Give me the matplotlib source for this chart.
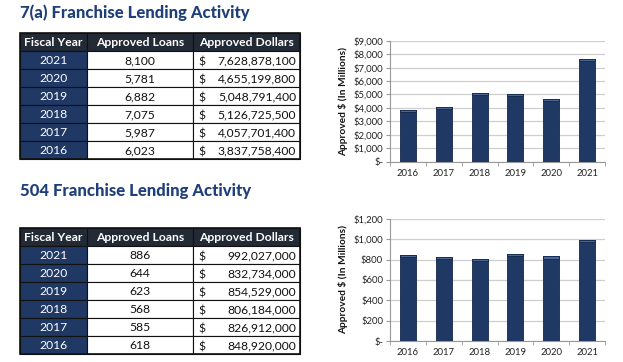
import matplotlib.pyplot as plt
from matplotlib.patches import Rectangle
from matplotlib.ticker import FuncFormatter

# data
years = ['2021', '2020', '2019', '2018', '2017', '2016']
loans_7a = ['8,100', '5,781', '6,882', '7,075', '5,987', '6,023']
dollars_7a = ['7,628,878,100', '4,655,199,800', '5,048,791,400',
              '5,126,725,500', '4,057,701,400', '3,837,758,400']
loans_504 = ['886', '644', '623', '568', '585', '618']
dollars_504 = ['992,027,000', '832,734,000', '854,529,000',
               '806,184,000', '826,912,000', '848,920,000']
headers = ['Fiscal Year', 'Approved Loans', 'Approved Dollars']

chart_years = ['2016', '2017', '2018', '2019', '2020', '2021']
mil_7a = [3837.8, 4057.7, 5126.7, 5048.8, 4655.2, 7628.9]
mil_504 = [848.9, 826.9, 806.2, 854.5, 832.7, 992.0]

NAVY = '#203864'
HEAD = '#222a35'
TITLE = '#1f3f7a'
FONT = ['Lato', 'DejaVu Sans']

plt.rcParams['font.family'] = FONT

W, H = 623, 362
fig = plt.figure(figsize=(W / 100, H / 100), dpi=100)
bg = fig.add_axes([0, 0, 1, 1])
bg.set_xlim(0, W)
bg.set_ylim(H, 0)
bg.axis('off')


def draw_table(top, loans, dollars):
    cols = [20, 87, 193, 300]
    rh = 18
    base = 13  # text baseline offset inside a row
    # header
    for i, h in enumerate(headers):
        x0, x1 = cols[i], cols[i + 1]
        bg.add_patch(Rectangle((x0, top), x1 - x0, rh, facecolor=HEAD,
                               edgecolor='#111111', lw=0.8))
        bg.text((x0 + x1) / 2, top + base, h, color='white',
                fontsize=8.7, fontweight='bold', ha='center', va='baseline')
    for r in range(len(years)):
        y0 = top + rh * (r + 1)
        bg.add_patch(Rectangle((cols[0], y0), cols[1] - cols[0], rh,
                               facecolor=NAVY, edgecolor='#111111', lw=0.8))
        bg.text((cols[0] + cols[1]) / 2, y0 + base, years[r],
                color='white', fontsize=8.7, ha='center', va='baseline')
        for c in (1, 2):
            bg.add_patch(Rectangle((cols[c], y0), cols[c + 1] - cols[c], rh,
                                   facecolor='white', edgecolor='#111111', lw=0.8))
        bg.text((cols[1] + cols[2]) / 2, y0 + base, loans[r],
                color='#111111', fontsize=8.7, ha='center', va='baseline')
        bg.text(cols[2] + 5, y0 + base + 1.5, '$', color='#111111',
                fontsize=8.7, ha='left', va='baseline')
        bg.text(cols[3] - 4, y0 + base, dollars[r], color='#111111',
                fontsize=8.7, ha='right', va='baseline')
    bg.add_patch(Rectangle((cols[0], top), cols[3] - cols[0], rh * 7,
                           facecolor='none', edgecolor='#111111', lw=1.2))


bg.text(20, 13, '7(a) Franchise Lending Activity', color=TITLE,
        fontsize=12, fontweight='black', ha='left', va='center')
bg.text(20, 191, '504 Franchise Lending Activity', color=TITLE,
        fontsize=12, fontweight='black', ha='left', va='center')
draw_table(33, loans_7a, dollars_7a)
draw_table(228, loans_504, dollars_504)


def money(v, pos):
    return '$-' if v == 0 else '${:,.0f}'.format(v)


def draw_chart(rect, vals, ymax, step):
    ax = fig.add_axes(rect)
    x = list(range(len(chart_years)))
    ax.bar(x, vals, width=0.45, color=NAVY, edgecolor='#14264a',
           lw=0.6, zorder=3)
    # lighter rim at the top of each bar
    cap = ymax * 0.018
    ax.bar(x, [cap] * len(vals), bottom=[v - cap for v in vals], width=0.45,
           color='#4a6796', edgecolor='#14264a', lw=0.6, zorder=4)
    ax.set_xlim(-0.5, len(chart_years) - 0.5)
    ax.set_ylim(0, ymax)
    ax.set_yticks(range(0, ymax + 1, step))
    ax.yaxis.set_major_formatter(FuncFormatter(money))
    ax.set_xticks(x)
    ax.set_xticklabels(chart_years)
    ax.set_xticks([i + 0.5 for i in range(-1, len(chart_years))], minor=True)
    ax.tick_params(axis='x', which='major', length=0, labelsize=6.8,
                   colors='#222222', pad=5)
    ax.tick_params(axis='x', which='minor', length=3, color='#999999')
    ax.tick_params(axis='y', length=3, labelsize=6.8, colors='#222222',
                   pad=2)
    ax.tick_params(axis='y', color='#999999')
    ax.grid(axis='y', color='#cfcfcf', lw=0.9, zorder=0)
    for s in ('top', 'right'):
        ax.spines[s].set_visible(False)
    for s in ('left', 'bottom'):
        ax.spines[s].set_color('#999999')
        ax.spines[s].set_linewidth(0.8)
    ax.set_ylabel('Approved $ (In Millions)', fontsize=7.3, fontweight='bold',
                  color='#111111', labelpad=4)
    return ax


draw_chart([390 / W, 1 - 161.7 / H, 215 / W, 121 / H], mil_7a, 9000, 1000)
draw_chart([390 / W, 1 - 341 / H, 215 / W, 122 / H], mil_504, 1200, 200)

fig.savefig('out.png', dpi=100)
